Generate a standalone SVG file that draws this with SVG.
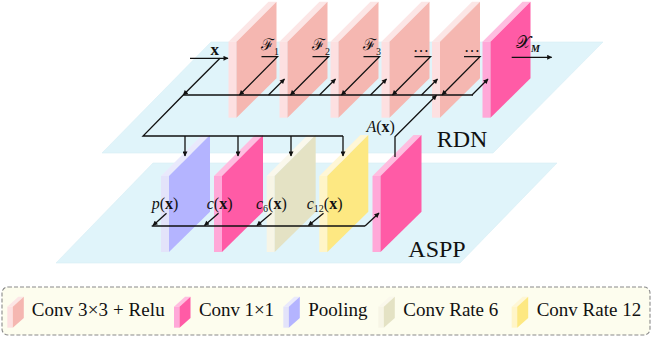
<svg xmlns="http://www.w3.org/2000/svg" width="664" height="337" viewBox="0 0 664 337">
<defs>
<style>
.plane{fill:#E0F4FA;stroke:#D6EEF5;stroke-width:0.6}
.ln{fill:none;stroke:#111;stroke-width:1.3}
.arr{marker-end:url(#ah)}
.t{font-family:"Liberation Serif","Times New Roman",serif;fill:#111}
.it{font-style:italic}
.bd{font-weight:bold}
.big{font-size:24px}
.lab{font-size:16px}
.leg{font-size:19px}
.sal .s{fill:#FDE0E1}.sal .p{fill:#FCE6E6}.sal .f{fill:#F5B7B1}
.pnk .s{fill:#FFA8D8}.pnk .p{fill:#FFBDE0}.pnk .f{fill:#FF5BA6}
.lav .s{fill:#E3E3FA}.lav .p{fill:#E9E9FC}.lav .f{fill:#B4B4FF}
.bei .s{fill:#F7F5E6}.bei .p{fill:#FAF8EC}.bei .f{fill:#E4E2C4}
.yel .s{fill:#FFF5C8}.yel .p{fill:#FFF7D6}.yel .f{fill:#FDE882}
</style>
<marker id="ah" viewBox="0 0 10 10" refX="9" refY="5" markerWidth="6" markerHeight="5" orient="auto" markerUnits="userSpaceOnUse">
<path d="M0,0 L10,5 L0,10 z" fill="#111"/>
</marker>
</defs>

<g id="planes">
<polygon id="rdn-plane" class="plane" points="211,42 603,42 493,153 102,153"/>
<polygon id="aspp-plane" class="plane" points="153,163 557,163 460,263 56,263"/>
</g>

<!-- RDN slabs -->
<g id="conv1" class="sal" transform="translate(228.5,41.7)"><polygon class="p" points="0,0 8,0 48,-40 40,-40"/><rect class="s" x="0" y="0" width="8" height="76"/><polygon class="f" points="8,0 48,-40 48,36.6 8,76"/></g>
<g id="conv2" class="sal" transform="translate(279.5,41.7)"><polygon class="p" points="0,0 8,0 48,-40 40,-40"/><rect class="s" x="0" y="0" width="8" height="76"/><polygon class="f" points="8,0 48,-40 48,36.6 8,76"/></g>
<g id="conv3" class="sal" transform="translate(330.5,41.7)"><polygon class="p" points="0,0 8,0 48,-40 40,-40"/><rect class="s" x="0" y="0" width="8" height="76"/><polygon class="f" points="8,0 48,-40 48,36.6 8,76"/></g>
<g id="conv4" class="sal" transform="translate(381.5,41.7)"><polygon class="p" points="0,0 8,0 48,-40 40,-40"/><rect class="s" x="0" y="0" width="8" height="76"/><polygon class="f" points="8,0 48,-40 48,36.6 8,76"/></g>
<g id="conv5" class="sal" transform="translate(432,41.7)"><polygon class="p" points="0,0 8,0 48,-40 40,-40"/><rect class="s" x="0" y="0" width="8" height="76"/><polygon class="f" points="8,0 48,-40 48,36.6 8,76"/></g>
<g id="rdn-fuse" class="pnk" transform="translate(482.5,41.7)"><polygon class="p" points="0,0 8,0 48,-40 40,-40"/><rect class="s" x="0" y="0" width="8" height="76"/><polygon class="f" points="8,0 48,-40 48,36.6 8,76"/></g>

<!-- ASPP slabs -->
<g id="pool" class="lav" transform="translate(161,176)"><polygon class="p" points="0,0 8,0 49,-41 41,-41"/><rect class="s" x="0" y="0" width="8" height="76"/><polygon class="f" points="8,0 49,-41 49,35.7 8,76"/></g>
<g id="conv1x1" class="pnk" transform="translate(214,176)"><polygon class="p" points="0,0 8,0 49,-41 41,-41"/><rect class="s" x="0" y="0" width="8" height="76"/><polygon class="f" points="8,0 49,-41 49,35.7 8,76"/></g>
<g id="rate6" class="bei" transform="translate(266.7,176)"><polygon class="p" points="0,0 8,0 49,-41 41,-41"/><rect class="s" x="0" y="0" width="8" height="76"/><polygon class="f" points="8,0 49,-41 49,35.7 8,76"/></g>
<g id="rate12" class="yel" transform="translate(319.3,176)"><polygon class="p" points="0,0 8,0 49,-41 41,-41"/><rect class="s" x="0" y="0" width="8" height="76"/><polygon class="f" points="8,0 49,-41 49,35.7 8,76"/></g>
<g id="aspp-fuse" class="pnk" transform="translate(372.5,176)"><polygon class="p" points="0,0 8,0 49,-41 41,-41"/><rect class="s" x="0" y="0" width="8" height="76"/><polygon class="f" points="8,0 49,-41 49,35.7 8,76"/></g>

<g id="connectors">
<!-- input -->
<line class="ln arr" x1="190" y1="58.3" x2="228" y2="58.3"/>
<line class="ln arr" x1="220" y1="58.3" x2="183.3" y2="95"/>
<polyline class="ln" points="473,95 183.3,95 143,136 343,136"/>
<!-- RDN feature taps -->
<polyline class="ln arr" points="261.5,56.7 277.5,56.7 239.5,95"/>
<line class="ln arr" x1="268.5" y1="95" x2="284.5" y2="79"/>
<polyline class="ln arr" points="312.5,56.7 328.5,56.7 290.5,95"/>
<line class="ln arr" x1="319.5" y1="95" x2="335.5" y2="79"/>
<polyline class="ln arr" points="363.5,56.7 379.5,56.7 341.5,95"/>
<line class="ln arr" x1="370.5" y1="95" x2="386.5" y2="79"/>
<polyline class="ln arr" points="414.5,56.7 430.5,56.7 392.5,95"/>
<line class="ln arr" x1="421.5" y1="95" x2="437.5" y2="79"/>
<polyline class="ln arr" points="464,56.7 480,56.7 442,95"/>
<line class="ln arr" x1="472" y1="95" x2="488" y2="79"/>
<!-- output -->
<line class="ln arr" x1="511.7" y1="57.3" x2="551.7" y2="57.3"/>
<!-- down to ASPP -->
<line class="ln arr" x1="185" y1="136" x2="185" y2="156"/>
<line class="ln arr" x1="238" y1="136" x2="238" y2="156"/>
<line class="ln arr" x1="291" y1="136" x2="291" y2="156"/>
<line class="ln arr" x1="343" y1="136" x2="343" y2="156"/>
<!-- A(x) back to RDN -->
<polyline class="ln arr" points="395,157 395,136.7 436.5,95.3"/>
<!-- ASPP bottom bus -->
<line class="ln" x1="151.7" y1="226" x2="365" y2="226"/>
<line class="ln arr" x1="365" y1="226" x2="379" y2="213"/>
<line class="ln arr" x1="166.5" y1="213.3" x2="153" y2="225.5"/>
<line class="ln arr" x1="218.5" y1="213.3" x2="204.5" y2="225.5"/>
<line class="ln arr" x1="271.5" y1="213.3" x2="257" y2="225.5"/>
<line class="ln arr" x1="323.5" y1="213.3" x2="308.5" y2="225.5"/>
</g>

<g id="labels">
<text class="t bd" x="210.5" y="55" font-size="17">x</text>
<text class="t lab" x="261" y="50">ℱ<tspan font-size="10" dy="5">1</tspan></text>
<text class="t lab" x="312" y="50">ℱ<tspan font-size="10" dy="5">2</tspan></text>
<text class="t lab" x="363" y="50">ℱ<tspan font-size="10" dy="5">3</tspan></text>
<text class="t lab" x="413" y="51.5">…</text>
<text class="t lab" x="464" y="51.5">…</text>
<text class="t" x="516" y="48" font-size="17">𝒳<tspan class="it bd" font-size="10" dy="4">M</tspan></text>
<text class="t lab" x="366.5" y="132"><tspan class="it">A</tspan>(<tspan class="bd">x</tspan>)</text>
<text class="t lab" x="151.7" y="209"><tspan class="it">p</tspan>(<tspan class="bd">x</tspan>)</text>
<text class="t lab" x="206.7" y="209"><tspan class="it">c</tspan>(<tspan class="bd">x</tspan>)</text>
<text class="t lab" x="256" y="209"><tspan class="it">c</tspan><tspan font-size="10" dy="3">6</tspan><tspan dy="-3">(</tspan><tspan class="bd">x</tspan>)</text>
<text class="t lab" x="306.7" y="209"><tspan class="it">c</tspan><tspan font-size="10" dy="3">12</tspan><tspan dy="-3">(</tspan><tspan class="bd">x</tspan>)</text>
<text class="t big" x="436.7" y="146.7">RDN</text>
<text class="t big" x="408.3" y="256.7">ASPP</text>
</g>

<g id="legend">
<rect x="2" y="287" width="648" height="48" rx="6" fill="#FDFDEE" stroke="#8A8A8A" stroke-width="1.1" stroke-dasharray="4 2"/>
<g class="sal" transform="translate(7.3,306.7)"><polygon class="p" points="0,0 5.5,0 16.5,-10 11,-10"/><rect class="s" x="0" y="0" width="5.5" height="21"/><polygon class="f" points="5.5,0 16.5,-10 16.5,11.3 5.5,21"/></g>
<text class="t leg" x="31.7" y="316" textLength="133" lengthAdjust="spacing">Conv 3×3 + Relu</text>
<g class="pnk" transform="translate(174,306.7)"><polygon class="p" points="0,0 5.5,0 16.5,-10 11,-10"/><rect class="s" x="0" y="0" width="5.5" height="21"/><polygon class="f" points="5.5,0 16.5,-10 16.5,11.3 5.5,21"/></g>
<text class="t leg" x="199" y="316" textLength="75" lengthAdjust="spacing">Conv 1×1</text>
<g class="lav" transform="translate(283.3,306.7)"><polygon class="p" points="0,0 5.5,0 16.5,-10 11,-10"/><rect class="s" x="0" y="0" width="5.5" height="21"/><polygon class="f" points="5.5,0 16.5,-10 16.5,11.3 5.5,21"/></g>
<text class="t leg" x="308.3" y="316">Pooling</text>
<g class="bei" transform="translate(378.3,306.7)"><polygon class="p" points="0,0 5.5,0 16.5,-10 11,-10"/><rect class="s" x="0" y="0" width="5.5" height="21"/><polygon class="f" points="5.5,0 16.5,-10 16.5,11.3 5.5,21"/></g>
<text class="t leg" x="403.3" y="316">Conv Rate 6</text>
<g class="yel" transform="translate(511.7,306.7)"><polygon class="p" points="0,0 5.5,0 16.5,-10 11,-10"/><rect class="s" x="0" y="0" width="5.5" height="21"/><polygon class="f" points="5.5,0 16.5,-10 16.5,11.3 5.5,21"/></g>
<text class="t leg" x="536.7" y="316">Conv Rate 12</text>
</g>
</svg>
